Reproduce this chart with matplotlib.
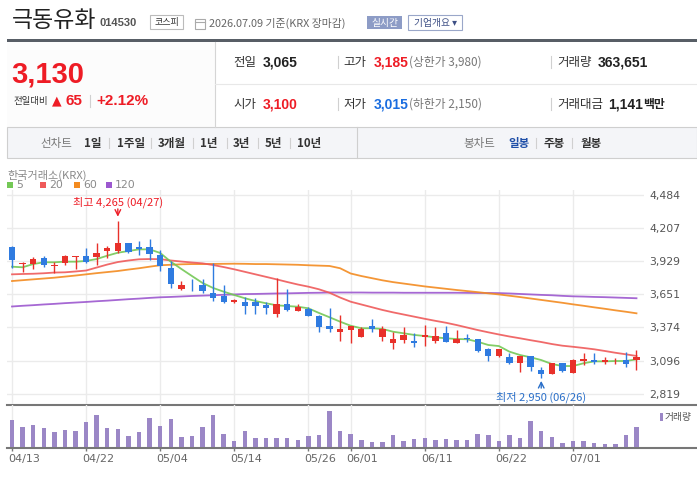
import matplotlib
matplotlib.use("Agg")
import matplotlib.pyplot as plt
from matplotlib.patches import Rectangle
import numpy as np

plt.rcParams['font.family'] = ['Noto Sans CJK KR', 'DejaVu Sans']
NUM = ['Liberation Sans', 'Noto Sans CJK KR']

# ---- header data ----
stock_name = "극동유화"
stock_code = "014530"
market = "코스피"
as_of = "2026.07.09 기준(KRX 장마감)"
price_now = 3130
change = 65
change_pct = 2.12
prev_close = 3065
open_price = 3100
day_high = 3185
day_low = 3015
upper_limit = 3980
lower_limit = 2150
volume_today = 363651
trade_value = 1141

# ---- daily candles (04/13 ~ 07/09) ----
days = ["04/13", "04/14", "04/15", "04/16", "04/17", "04/20", "04/21", "04/22", "04/23", "04/24",
        "04/27", "04/28", "04/29", "04/30", "05/04", "05/06", "05/07", "05/08", "05/11", "05/12",
        "05/13", "05/14", "05/15", "05/18", "05/19", "05/20", "05/21", "05/22", "05/26", "05/27",
        "05/28", "05/29", "06/01", "06/02", "06/04", "06/05", "06/08", "06/09", "06/10", "06/11",
        "06/12", "06/15", "06/16", "06/17", "06/18", "06/19", "06/22", "06/23", "06/24", "06/25",
        "06/26", "06/29", "06/30", "07/01", "07/02", "07/03", "07/06", "07/07", "07/08", "07/09"]
opens = [4049, 3902, 3904, 3955, 3890, 3910, 3963, 3971, 3961, 4016,
         4016, 4078, 4047, 4047, 3980, 3874, 3695, 3730, 3726, 3659,
         3637, 3587, 3587, 3589, 3564, 3489, 3570, 3514, 3525, 3469,
         3386, 3338, 3352, 3296, 3386, 3296, 3246, 3269, 3260, 3296,
         3260, 3330, 3246, 3285, 3277, 3191, 3135, 3129, 3079, 3135,
         3018, 2984, 3079, 2995, 3093, 3101, 3084, 3090, 3101, 3100]
highs = [4055, 3924, 3966, 3974, 3919, 3977, 3974, 4036, 4078, 4055,
         4265, 4078, 4097, 4114, 4022, 3930, 3762, 3779, 3779, 3910,
         3729, 3608, 3628, 3620, 3587, 3785, 3695, 3570, 3542, 3478,
         3534, 3478, 3386, 3380, 3444, 3386, 3338, 3377, 3327, 3394,
         3377, 3386, 3352, 3316, 3277, 3199, 3191, 3157, 3135, 3135,
         3045, 3074, 3079, 3107, 3157, 3162, 3129, 3121, 3170, 3185]
lows = [3868, 3840, 3860, 3879, 3827, 3896, 3860, 3915, 3896, 3952,
        3994, 3994, 3980, 3938, 3849, 3706, 3687, 3681, 3659, 3597,
        3578, 3581, 3489, 3489, 3489, 3464, 3514, 3509, 3469, 3338,
        3338, 3260, 3246, 3296, 3338, 3260, 3193, 3246, 3213, 3221,
        3246, 3254, 3246, 3254, 3171, 3096, 3129, 3065, 3001, 3012,
        2950, 2984, 2998, 2995, 3059, 3065, 3065, 3065, 3045, 3015]
closes = [3938, 3915, 3946, 3896, 3896, 3971, 3969, 3924, 3994, 4038,
          4078, 4007, 4027, 3988, 3888, 3735, 3729, 3726, 3681, 3623,
          3589, 3603, 3556, 3556, 3539, 3570, 3522, 3545, 3472, 3380,
          3363, 3361, 3386, 3363, 3363, 3363, 3275, 3308, 3246, 3310,
          3302, 3254, 3277, 3275, 3179, 3135, 3191, 3074, 3135, 3045,
          2984, 3074, 3009, 3101, 3107, 3084, 3101, 3096, 3065, 3130]
volumes = [489000, 364000, 399000, 346000, 274000, 310000, 292000, 453000, 578000, 346000,
           328000, 203000, 274000, 525000, 382000, 507000, 185000, 203000, 364000, 578000,
           238000, 113000, 292000, 167000, 167000, 167000, 167000, 131000, 203000, 221000,
           650000, 292000, 238000, 131000, 95000, 95000, 221000, 113000, 149000, 167000,
           131000, 149000, 131000, 131000, 238000, 221000, 113000, 221000, 167000, 471000,
           292000, 185000, 77000, 113000, 113000, 77000, 60000, 60000, 221000, 363651]

# moving averages
ma5 = [3882, 3877, 3904, 3919, 3919, 3924, 3924, 3930, 3946, 3974,
       3999, 4013, 4027, 4027, 3997, 3924, 3863, 3804, 3746, 3704,
       3673, 3645, 3618, 3595, 3576, 3559, 3553, 3547, 3534, 3495,
       3459, 3422, 3388, 3367, 3367, 3361, 3338, 3325, 3311, 3302,
       3291, 3283, 3277, 3275, 3254, 3227, 3218, 3171, 3143, 3124,
       3101, 3068, 3051, 3051, 3074, 3090, 3090, 3093, 3093, 3107]
ma20 = [3818, 3821, 3823, 3827, 3833, 3835, 3842, 3850, 3875, 3900,
        3921, 3934, 3944, 3946, 3945, 3934, 3925, 3917, 3910, 3896,
        3879, 3860, 3839, 3818, 3797, 3776, 3754, 3733, 3715, 3693,
        3664, 3624, 3589, 3566, 3543, 3520, 3500, 3482, 3464, 3446,
        3429, 3413, 3394, 3373, 3352, 3333, 3315, 3298, 3283, 3267,
        3252, 3235, 3221, 3212, 3202, 3191, 3177, 3162, 3149, 3135]
ma60 = [3762, 3769, 3776, 3783, 3790, 3799, 3808, 3818, 3828, 3837,
        3846, 3858, 3869, 3882, 3894, 3898, 3902, 3904, 3904, 3905,
        3906, 3907, 3906, 3904, 3904, 3902, 3900, 3898, 3894, 3891,
        3888, 3869, 3825, 3804, 3786, 3768, 3753, 3741, 3729, 3717,
        3707, 3697, 3687, 3678, 3669, 3659, 3650, 3639, 3628, 3616,
        3604, 3592, 3580, 3567, 3555, 3542, 3530, 3517, 3505, 3492]
ma120 = [3549, 3555, 3560, 3566, 3571, 3577, 3582, 3587, 3593, 3598,
         3604, 3610, 3615, 3621, 3626, 3629, 3633, 3637, 3640, 3643,
         3647, 3650, 3653, 3654, 3656, 3658, 3659, 3661, 3663, 3664,
         3666, 3666, 3666, 3666, 3665, 3665, 3665, 3664, 3664, 3664,
         3664, 3664, 3664, 3663, 3662, 3662, 3661, 3658, 3654, 3650,
         3646, 3643, 3638, 3634, 3632, 3629, 3627, 3624, 3621, 3618]

price_ticks = [2819, 3096, 3374, 3651, 3929, 4207, 4484]
tick_dates = ["04/13", "04/22", "05/04", "05/14", "05/26", "06/01", "06/11", "06/22", "07/01"]

RED = '#ee1c25'
BLUE = '#1a6de0'
UP = '#e8312a'
DOWN = '#2f7be0'
MA_COLORS = {'5': '#74c856', '20': '#ef5a5a', '60': '#f38b20', '120': '#9c58cf'}
VOL_C = '#9b87c6'

W, H = 697, 478
fig = plt.figure(figsize=(W / 100, H / 100), dpi=100)


def px_rect(x0, y0, x1, y1):
    return [x0 / W, 1 - y1 / H, (x1 - x0) / W, (y1 - y0) / H]


bg = fig.add_axes([0, 0, 1, 1])
bg.set_xlim(0, W)
bg.set_ylim(H, 0)
bg.axis('off')


def box(x0, y0, x1, y1, **kw):
    bg.add_patch(Rectangle((x0, y0), x1 - x0, y1 - y0, **kw))


def t(x, y, s, **kw):
    kw.setdefault('va', 'center')
    return bg.text(x, y, s, **kw)


def vsep(x, y0, y1, c='#d0d0d0'):
    bg.plot([x, x], [y0, y1], color=c, lw=0.8)


# ---- title row ----
t(12, 20, stock_name, fontsize=16.5, color='#222')
t(100, 23, stock_code, fontsize=8, weight='bold', color='#555', family=NUM)
box(150, 15, 183, 29, fill=False, ec='#bbbbbb', lw=0.8)
t(166.5, 22, market, fontsize=6.5, ha='center', color='#333')
box(195, 19, 205, 29, fill=False, ec='#aaaaaa', lw=0.8)
bg.plot([195, 205], [21.5, 21.5], color='#aaaaaa', lw=0.8)
t(209, 23, as_of, fontsize=7.8, color='#666')
box(367, 16, 402, 29, fc='#8d9cc6', ec='none')
t(384.5, 22.5, "실시간", fontsize=7, ha='center', color='white')
box(408, 15, 462, 30, fill=False, ec='#9aa7c9', lw=0.8)
t(435, 22.5, "기업개요 ▾", fontsize=7, ha='center', color='#3d4f85')

box(7, 39, 697, 42, fc='#585e66', ec='none')

# ---- price info panel ----
box(7, 42, 215, 127, fc='#fcfcfc', ec='none')
bg.plot([215, 215], [42, 127], color='#d5d5d5', lw=0.8)
bg.plot([215, 697], [84, 84], color='#e8e8e8', lw=0.8)

t(11, 74, f"{price_now:,}", fontsize=21, weight='bold', color=RED, family=NUM)
t(14, 101, "전일대비", fontsize=6.8, color='#333')
t(52, 101, "▲", fontsize=9, color=RED, family=['DejaVu Sans'])
t(66, 101, f"{change}", fontsize=11, weight='bold', color=RED, family=NUM)
vsep(90, 95, 107)
t(96, 101, f"+{change_pct:.2f}%", fontsize=11, weight='bold', color=RED, family=NUM)

rows = [
    (62, "전일", f"{prev_close:,}", '#222', "고가", f"{day_high:,}", RED, f"(상한가 {upper_limit:,})",
     "거래량", f"{volume_today:,}", ""),
    (104, "시가", f"{open_price:,}", RED, "저가", f"{day_low:,}", BLUE, f"(하한가 {lower_limit:,})",
     "거래대금", f"{trade_value:,}", "백만"),
]
for y, l1, v1, c1, l2, v2, c2, lim, l3, v3, unit in rows:
    t(233, y, l1, fontsize=9, color='#333')
    t(263, y, v1, fontsize=10, weight='bold', color=c1, family=NUM)
    vsep(338, y - 6, y + 6)
    t(343, y, l2, fontsize=9, color='#333')
    t(374, y, v2, fontsize=10, weight='bold', color=c2, family=NUM)
    t(409, y, lim, fontsize=8.5, color='#777')
    vsep(551, y - 6, y + 6)
    t(557, y, l3, fontsize=9, color='#333')
    xv = 598 if unit == "" else 608
    t(xv, y, v3, fontsize=10, weight='bold', color='#222', family=NUM)
    if unit:
        t(643, y, unit, fontsize=8.5, weight='bold', color='#222')

# ---- tab bar ----
box(7, 127, 697, 158, fc='#f4f5f8', ec='#cfcfcf', lw=0.8)
vsep(357, 127, 158, '#cfcfcf')
t(40, 143, "선차트", fontsize=8.3, color='#777')
for lab, x in [("1일", 84), ("1주일", 117), ("3개월", 158), ("1년", 200), ("3년", 233), ("5년", 265), ("10년", 297)]:
    t(x, 143, lab, fontsize=8.3, weight='bold', color='#333')
for x in [109, 151, 193, 227, 258, 290]:
    vsep(x, 138, 148)
t(463, 143, "봉차트", fontsize=8.3, color='#777')
t(508, 143, "일봉", fontsize=8.3, weight='bold', color='#1f4fa8')
t(544, 143, "주봉", fontsize=8.3, weight='bold', color='#333')
t(581, 143, "월봉", fontsize=8.3, weight='bold', color='#333')
vsep(536, 138, 148)
vsep(572, 138, 148)

# ---- chart header ----
t(7, 175.5, "한국거래소(KRX)", fontsize=8, color='#8a8a8a')
for (name, c), x in zip(MA_COLORS.items(), [7, 40, 74, 106]):
    box(x, 182, x + 6, 188, fc=c, ec='none')
    t(x + 9, 185, name, fontsize=7.8, color='#8a8a8a', family=['DejaVu Sans'])

# volume panel frame lines
bg.plot([7, 697], [404.5, 404.5], color='#777777', lw=1.5)
bg.plot([7, 697], [447.5, 447.5], color='#777777', lw=1.5)
box(660, 413, 663, 421, fc=VOL_C, ec='none')
t(665, 417, "거래량", fontsize=7, color='#555')

# ---- price axes ----
x = np.arange(len(days))
o = np.array(opens)
c = np.array(closes)
hi = np.array(highs)
lo = np.array(lows)
tick_idx = [days.index(d) for d in tick_dates]
xlim = (-0.472, 59.71)

ax = fig.add_axes(px_rect(7, 190, 644, 404))
ax.set_facecolor('none')
ax.set_xlim(*xlim)
ax.set_ylim(2733.3, 4523.6)
for v in price_ticks:
    ax.axhline(v, color='#ebebeb', lw=1, zorder=0)
for i in tick_idx:
    ax.axvline(i, color='#ebebeb', lw=1, zorder=0)

for name, vals in [('120', ma120), ('60', ma60), ('20', ma20), ('5', ma5)]:
    ax.plot(x, vals, color=MA_COLORS[name], lw=1.3, alpha=0.9, zorder=2)

cols = [UP if cc >= oo else DOWN for oo, cc in zip(o, c)]
bottoms = np.minimum(o, c)
heights = np.maximum(np.abs(c - o), 6)
ax.vlines(x, lo, hi, colors=cols, lw=1, zorder=3)
ax.bar(x, heights, bottom=bottoms, width=0.6, color=cols, lw=0, zorder=4)

ih = int(np.argmax(hi))
il = int(np.argmin(lo))
ax.annotate('', xy=(ih, hi[ih]), xytext=(0, 12), textcoords='offset pixels',
            arrowprops=dict(arrowstyle='->', color=RED, lw=1, shrinkA=0, shrinkB=3))
ax.annotate(f"최고 {hi[ih]:,} ({days[ih]})", xy=(ih, hi[ih]), xytext=(0, 18.5),
            textcoords='offset pixels', ha='center', va='center', fontsize=8, color=RED)
ax.annotate('', xy=(il, lo[il]), xytext=(0, -10), textcoords='offset pixels',
            arrowprops=dict(arrowstyle='->', color='#2a6fc9', lw=1, shrinkA=0, shrinkB=2))
ax.annotate(f"최저 {lo[il]:,} ({days[il]})", xy=(il, lo[il]), xytext=(0, -19),
            textcoords='offset pixels', ha='center', va='center', fontsize=8, color='#2a6fc9')

for s in ax.spines.values():
    s.set_visible(False)
ax.set_xticks([])
ax.yaxis.tick_right()
ax.set_yticks(price_ticks)
ax.set_yticklabels([f"{v:,}" for v in price_ticks], family='DejaVu Sans')
ax.tick_params(axis='y', length=0, pad=4, labelsize=7.8, labelcolor='#555')

# ---- volume axes ----
av = fig.add_axes(px_rect(7, 404.7, 644, 447.3))
av.set_facecolor('none')
av.set_xlim(*xlim)
av.set_ylim(0, 763000)
for i in tick_idx:
    av.axvline(i, color='#ebebeb', lw=1, zorder=0)
av.bar(x, volumes, width=0.42, color=VOL_C, lw=0, zorder=2)
for s in av.spines.values():
    s.set_visible(False)
av.set_yticks([])
av.set_xticks(tick_idx)
av.set_xticklabels([])
av.tick_params(axis='x', length=3, width=1, color='#777777')
for i, lab in zip(tick_idx, tick_dates):
    av.annotate(lab, xy=(i, 0), xycoords=('data', 'axes fraction'), xytext=(-4, -12),
                textcoords='offset pixels', ha='left', va='center', fontsize=8,
                color='#666', family='DejaVu Sans')

fig.savefig('out.png', dpi=100)
